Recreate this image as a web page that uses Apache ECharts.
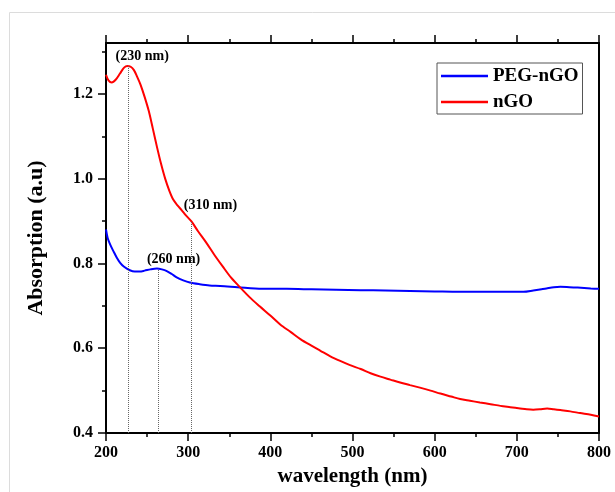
<!DOCTYPE html>
<html><head><meta charset="utf-8">
<script src="https://cdn.jsdelivr.net/npm/echarts@6/dist/echarts.min.js"></script>
<style>html,body{margin:0;padding:0;background:#fff}#c{width:615px;height:492px}</style>
</head><body><div id="c"></div>
<script>
const xTicks = [200, 300, 400, 500, 600, 700, 800];
const yTicks = [0.4, 0.6, 0.8, 1.0, 1.2];
const yMinorTicks = [0.5, 0.7, 0.9, 1.1, 1.3];

const nGOWavelength = [200,203,207,212,217,222,226,230,234,238,242,247,252,257,262,267,272,277,282,287,292,297,304,312,322,332,342,352,363,375,387,400,412,425,437,450,461,473,485,497,510,522,534,546,558,570,582,595,607,620,631,643,655,668,680,692,704,712,720,728,737,745,753,765,777,790,800];
const nGOAbs = [1.245,1.232,1.227,1.234,1.248,1.262,1.266,1.264,1.256,1.240,1.222,1.193,1.160,1.118,1.075,1.035,1.000,0.972,0.950,0.937,0.926,0.914,0.899,0.876,0.849,0.820,0.793,0.767,0.744,0.720,0.699,0.677,0.656,0.638,0.621,0.606,0.594,0.581,0.570,0.560,0.551,0.541,0.533,0.526,0.519,0.513,0.507,0.500,0.493,0.486,0.480,0.476,0.472,0.468,0.464,0.461,0.458,0.456,0.455,0.456,0.458,0.456,0.454,0.451,0.447,0.443,0.439];

const pegWavelength = [200,202,205,209,213,217,222,229,235,241,247,254,262,268,274,280,286,294,302,314,326,339,360,390,420,450,480,510,540,570,600,630,660,690,708,720,730,736,745,753,764,774,790,800];
const pegAbs = [0.880,0.860,0.845,0.829,0.814,0.802,0.792,0.784,0.781,0.781,0.783,0.786,0.788,0.786,0.782,0.775,0.767,0.760,0.755,0.751,0.748,0.747,0.744,0.740,0.740,0.739,0.738,0.737,0.736,0.735,0.734,0.733,0.733,0.733,0.733,0.736,0.739,0.741,0.744,0.745,0.744,0.743,0.741,0.740];

// annotations: line wavelength, label text, series it belongs to
const annotWavelength = [227, 264, 304];
const annotText = ['(230 nm)', '(260 nm)', '(310 nm)'];
const annotSeries = ['nGO', 'PEG-nGO', 'nGO'];

function interp(xs, ys, x) {
  for (let i = 0; i < xs.length - 1; i++) {
    if (x >= xs[i] && x <= xs[i+1]) {
      const t = (x - xs[i]) / (xs[i+1] - xs[i]);
      return ys[i] + t * (ys[i+1] - ys[i]);
    }
  }
  return ys[ys.length-1];
}

const FONT = '"Liberation Serif", "Times New Roman", serif';
const labelOffsets = [[14, -10], [15, -9], [19, -16]];

function buildMarks(name, xs, ys) {
  const lines = [], points = [];
  annotWavelength.forEach((w, i) => {
    if (annotSeries[i] !== name) return;
    const top = interp(xs, ys, w);
    lines.push([{coord: [w, 0.4]}, {coord: [w, top]}]);
    points.push({coord: [w, top], label: {formatter: annotText[i], offset: labelOffsets[i]}});
  });
  return {
    markLine: {silent: true, symbol: ['none','none'], animation: false,
      lineStyle: {type: 'dotted', color: '#666', width: 1}, label: {show: false}, data: lines},
    markPoint: {silent: true, symbol: 'circle', symbolSize: 0, animation: false,
      label: {show: true, position: 'inside', color: '#000', fontFamily: FONT, fontWeight: 'bold', fontSize: 14},
      data: points}
  };
}

const chart = echarts.init(document.getElementById('c'), null, {renderer: 'canvas'});
const axisLineStyle = {color: '#000', width: 2};
const tickStyle = {color: '#000', width: 1.5};
const option = {
  animation: false,
  backgroundColor: '#fff',
  graphic: [{type: 'rect', shape: {x: 9.5, y: 12.5, width: 700, height: 600}, style: {fill: 'none', stroke: '#dcdcdc', lineWidth: 1}, silent: true}],
  grid: {left: 106, right: 16, top: 43, bottom: 58, containLabel: false},
  legend: {
    orient: 'vertical', left: 437, top: 63,
    padding: [3, 4, 2, 4], itemGap: 6,
    itemWidth: 47, itemHeight: 2.5, icon: 'rect',
    borderColor: '#555', borderWidth: 1,
    textStyle: {fontFamily: FONT, fontWeight: 'bold', fontSize: 19, color: '#000', lineHeight: 20},
    data: ['PEG-nGO', 'nGO']
  },
  xAxis: [{
    type: 'value', min: 200, max: 800, interval: 100, position: 'bottom',
    name: 'wavelength (nm)', nameLocation: 'middle', nameGap: 33,
    nameTextStyle: {fontFamily: FONT, fontWeight: 'bold', fontSize: 21, color: '#000'},
    axisLine: {show: true, lineStyle: axisLineStyle},
    axisTick: {show: true, inside: false, length: 8, lineStyle: tickStyle},
    minorTick: {show: true, splitNumber: 2, length: 4, lineStyle: tickStyle},
    axisLabel: {margin: 12, fontFamily: FONT, fontWeight: 'bold', fontSize: 16, color: '#000',
      customValues: xTicks},
    splitLine: {show: false}
  }, {
    type: 'value', min: 200, max: 800, interval: 100, position: 'top',
    axisLine: {show: true, lineStyle: axisLineStyle},
    axisTick: {show: true, inside: false, length: 8, lineStyle: tickStyle},
    minorTick: {show: true, splitNumber: 2, length: 4, lineStyle: tickStyle},
    axisLabel: {show: false}, splitLine: {show: false}
  }],
  yAxis: [{
    type: 'value', min: 0.4, max: 1.32, position: 'left',
    name: 'Absorption (a.u)', nameLocation: 'middle', nameGap: 59, nameRotate: 90,
    nameTextStyle: {fontFamily: FONT, fontWeight: 'bold', fontSize: 22, color: '#000'},
    axisLine: {show: true, lineStyle: axisLineStyle},
    axisTick: {show: true, inside: false, length: 8, customValues: yTicks, lineStyle: tickStyle},
    axisLabel: {margin: 13, fontFamily: FONT, fontWeight: 'bold', fontSize: 16, color: '#000',
      customValues: yTicks, formatter: v => v.toFixed(1)},
    splitLine: {show: false}
  }, {
    type: 'value', min: 0.4, max: 1.32, position: 'left',
    axisLine: {show: false},
    axisTick: {show: true, inside: false, length: 4, customValues: yMinorTicks, lineStyle: tickStyle},
    axisLabel: {show: false}, splitLine: {show: false}
  }, {
    type: 'value', min: 0.4, max: 1.32, position: 'right',
    axisLine: {show: true, lineStyle: axisLineStyle},
    axisTick: {show: false}, axisLabel: {show: false}, splitLine: {show: false}
  }],
  series: [
    Object.assign({
      name: 'PEG-nGO', type: 'line', symbol: 'none', smooth: 0.3,
      data: pegWavelength.map((w, i) => [w, pegAbs[i]]),
      lineStyle: {color: '#0000ff', width: 2}, itemStyle: {color: '#0000ff'}, z: 3
    }, buildMarks('PEG-nGO', pegWavelength, pegAbs)),
    Object.assign({
      name: 'nGO', type: 'line', symbol: 'none', smooth: 0.3,
      data: nGOWavelength.map((w, i) => [w, nGOAbs[i]]),
      lineStyle: {color: '#ff0000', width: 2}, itemStyle: {color: '#ff0000'}, z: 4
    }, buildMarks('nGO', nGOWavelength, nGOAbs))
  ]
};
chart.setOption(option);
</script></body></html>
